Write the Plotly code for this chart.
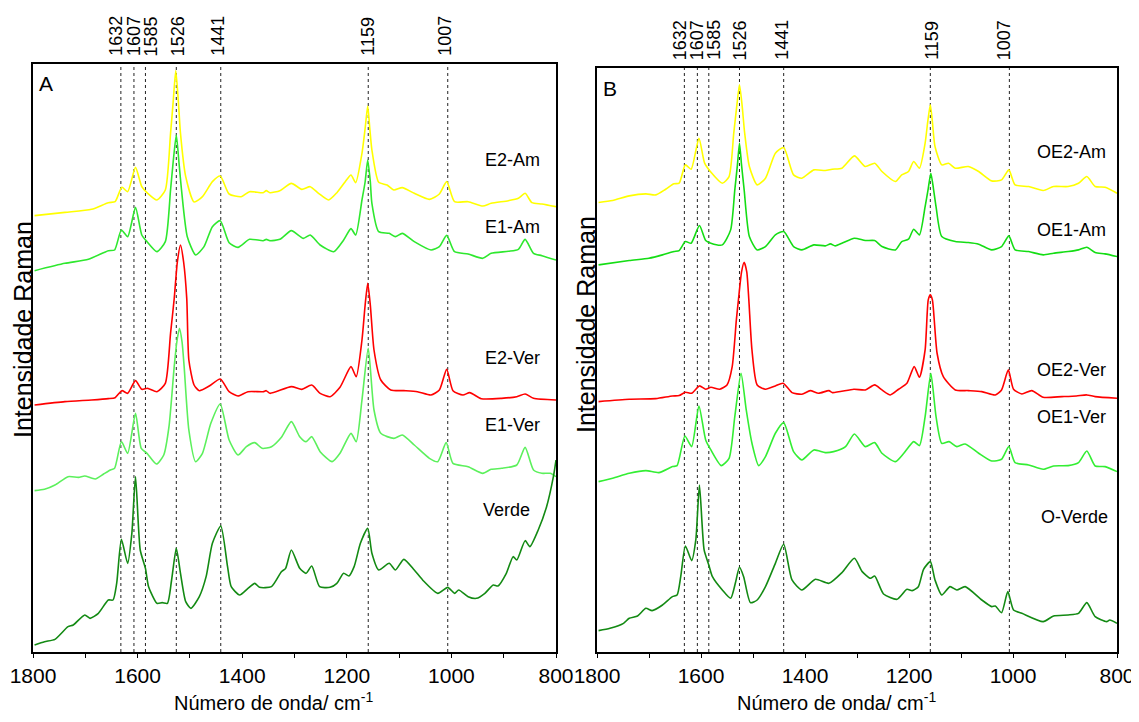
import plotly.graph_objects as go

# page is 1139x722; the html body adds an 8px margin, so the figure is 8px smaller
# on each axis and all page-pixel positions are shifted by 8px.
PAGE_OFF = 8
W, H = 1139 - PAGE_OFF, 722 - PAGE_OFF

# ---------------- data (wavenumber cm-1, intensity a.u.) ----------------
peaks = [1632, 1607, 1585, 1526, 1441, 1159, 1007]
tick_vals = [1800, 1600, 1400, 1200, 1000, 800]
tick_text = ["1800", "1600", "1400", "1200", "1000", "800"]
minor_tick_vals = [1700, 1500, 1300, 1100, 900]

# Panel A
A_E2_Am = [(1797,1309),(1739,1319),(1688,1328),(1656,1348),(1643,1351),(1630,1394),(1619,1381),(1604,1454),(1592,1396),(1582,1378),(1563,1356),(1547,1386),(1537,1556),(1532,1650),(1527,1744),(1522,1650),(1518,1556),(1508,1426),(1492,1350),(1476,1366),(1457,1411),(1442,1428),(1425,1374),(1402,1366),(1386,1381),(1360,1378),(1354,1384),(1347,1378),(1328,1384),(1306,1406),(1286,1388),(1270,1396),(1254,1376),(1235,1356),(1219,1378),(1203,1411),(1192,1431),(1183,1408),(1171,1496),(1165,1570),(1160,1638),(1156,1570),(1152,1506),(1139,1409),(1123,1401),(1110,1386),(1094,1393),(1071,1376),(1042,1358),(1023,1374),(1009,1411),(994,1351),(968,1351),(940,1338),(924,1346),(891,1354),(872,1361),(859,1376),(846,1348),(827,1344),(800,1336)]
A_E1_Am = [(1797,1144),(1739,1166),(1694,1178),(1656,1204),(1644,1206),(1631,1266),(1619,1246),(1604,1334),(1592,1251),(1582,1231),(1563,1201),(1547,1231),(1537,1386),(1532,1470),(1526,1551),(1521,1470),(1516,1386),(1505,1246),(1489,1191),(1473,1216),(1457,1276),(1442,1294),(1425,1228),(1408,1214),(1386,1238),(1360,1234),(1354,1238),(1347,1234),(1328,1238),(1306,1264),(1283,1241),(1270,1251),(1251,1221),(1225,1201),(1206,1236),(1192,1270),(1183,1251),(1171,1356),(1165,1410),(1160,1476),(1155,1410),(1152,1346),(1139,1261),(1119,1256),(1107,1246),(1094,1256),(1071,1231),(1039,1206),(1023,1216),(1009,1250),(994,1201),(968,1194),(940,1181),(924,1196),(891,1202),(872,1208),(859,1238),(843,1196),(827,1189),(800,1176)]
A_E2_Ver = [(1797,741),(1739,751),(1688,756),(1656,760),(1643,763),(1630,784),(1619,776),(1604,814),(1592,788),(1581,791),(1563,781),(1547,806),(1537,956),(1530,1060),(1524,1170),(1518,1221),(1512,1170),(1506,1060),(1502,876),(1492,801),(1482,784),(1463,798),(1442,819),(1425,781),(1408,768),(1389,781),(1360,781),(1354,784),(1347,776),(1306,796),(1286,788),(1267,801),(1251,776),(1232,766),(1213,794),(1192,856),(1182,826),(1171,936),(1165,1040),(1160,1106),(1155,1040),(1148,906),(1135,816),(1116,786),(1091,784),(1065,781),(1039,771),(1023,786),(1009,848),(997,784),(978,771),(965,778),(943,760),(904,761),(875,766),(859,774),(843,761),(800,756)]
A_E1_Ver = [(1797,484),(1778,488),(1758,501),(1733,526),(1713,524),(1701,528),(1681,519),(1665,534),(1652,546),(1644,551),(1631,631),(1619,596),(1604,716),(1593,611),(1582,596),(1564,564),(1550,591),(1540,676),(1530,856),(1525,930),(1520,971),(1515,930),(1511,856),(1502,666),(1489,571),(1476,596),(1460,686),(1442,744),(1425,636),(1408,591),(1392,616),(1376,628),(1362,611),(1344,616),(1325,644),(1306,691),(1290,646),(1278,631),(1267,646),(1251,601),(1228,571),(1213,596),(1192,656),(1182,631),(1171,756),(1159,911),(1148,726),(1135,656),(1110,641),(1094,651),(1071,621),(1042,581),(1026,571),(1010,628),(997,566),(968,556),(940,536),(924,548),(904,551),(875,561),(859,614),(843,546),(827,536),(811,536),(800,526)]
A_Verde = [(1797,21),(1778,31),(1758,38),(1733,76),(1723,81),(1701,111),(1691,101),(1675,116),(1656,156),(1647,156),(1640,206),(1631,338),(1619,266),(1611,356),(1604,526),(1595,306),(1585,251),(1579,196),(1563,146),(1553,148),(1543,146),(1535,216),(1526,311),(1518,236),(1508,151),(1498,131),(1482,166),(1469,226),(1457,326),(1441,378),(1428,256),(1421,196),(1405,171),(1389,191),(1376,206),(1367,194),(1344,196),(1325,241),(1317,251),(1306,306),(1290,251),(1278,236),(1267,258),(1252,196),(1232,194),(1219,206),(1206,236),(1196,228),(1186,256),(1174,326),(1160,371),(1152,296),(1139,246),(1119,266),(1107,246),(1091,278),(1071,246),(1055,216),(1026,176),(1007,194),(994,176),(986,186),(968,166),(952,161),(936,176),(920,201),(911,198),(895,236),(882,286),(875,276),(859,334),(850,316),(834,366),(818,436),(805,526),(800,576)]

# Panel B
B_OE2_Am = [(1797,1348),(1770,1354),(1738,1368),(1706,1374),(1687,1371),(1668,1388),(1652,1404),(1642,1406),(1630,1461),(1619,1448),(1604,1541),(1593,1466),(1582,1441),(1559,1406),(1546,1426),(1537,1556),(1531,1640),(1526,1701),(1521,1640),(1516,1556),(1507,1456),(1492,1401),(1476,1421),(1457,1496),(1441,1513),(1422,1431),(1406,1421),(1383,1446),(1361,1444),(1348,1448),(1329,1451),(1305,1488),(1284,1456),(1266,1466),(1252,1441),(1226,1411),(1214,1431),(1201,1441),(1191,1471),(1180,1451),(1169,1526),(1164,1590),(1159,1641),(1155,1590),(1150,1516),(1137,1461),(1124,1466),(1111,1451),(1086,1456),(1066,1441),(1041,1413),(1022,1416),(1008,1446),(996,1401),(970,1396),(942,1384),(922,1396),(894,1396),(874,1406),(858,1426),(842,1396),(823,1394),(800,1376)]
B_OE1_Am = [(1797,1161),(1738,1174),(1700,1181),(1674,1191),(1652,1201),(1642,1204),(1630,1231),(1619,1226),(1603,1279),(1591,1234),(1581,1226),(1559,1221),(1543,1266),(1535,1386),(1530,1460),(1526,1526),(1522,1460),(1517,1386),(1507,1246),(1492,1206),(1476,1216),(1457,1251),(1441,1261),(1422,1216),(1406,1206),(1383,1221),(1361,1218),(1351,1224),(1342,1218),(1329,1226),(1305,1241),(1284,1234),(1266,1234),(1252,1216),(1226,1206),(1214,1231),(1201,1238),(1191,1268),(1180,1251),(1169,1336),(1163,1390),(1158,1436),(1153,1390),(1148,1336),(1137,1246),(1111,1231),(1086,1228),(1066,1223),(1041,1206),(1022,1216),(1008,1248),(996,1206),(970,1201),(942,1191),(922,1196),(894,1201),(874,1206),(858,1214),(842,1198),(823,1194),(800,1186)]
B_OE2_Ver = [(1797,751),(1738,758),(1687,760),(1655,768),(1642,769),(1630,779),(1618,776),(1603,798),(1591,788),(1581,794),(1564,788),(1550,801),(1540,856),(1532,996),(1528,1056),(1522,1140),(1517,1169),(1512,1140),(1508,1056),(1502,906),(1492,801),(1476,788),(1457,798),(1442,806),(1425,778),(1406,773),(1390,784),(1374,776),(1354,784),(1347,778),(1306,788),(1284,786),(1266,801),(1252,786),(1236,771),(1220,788),(1204,806),(1190,856),(1180,824),(1169,906),(1163,1056),(1159,1071),(1155,1056),(1146,896),(1134,826),(1111,786),(1086,784),(1060,781),(1034,771),(1022,786),(1009,846),(999,788),(983,774),(964,784),(942,764),(906,766),(878,768),(858,771),(842,766),(800,761)]
B_OE1_Ver = [(1797,511),(1770,521),(1738,536),(1706,544),(1681,538),(1655,556),(1646,559),(1631,648),(1618,616),(1604,738),(1591,636),(1581,606),(1561,559),(1546,581),(1535,706),(1523,836),(1513,726),(1502,626),(1489,559),(1476,586),(1457,656),(1441,688),(1422,601),(1406,576),(1383,606),(1361,598),(1345,601),(1322,616),(1305,654),(1284,616),(1266,628),(1252,596),(1226,571),(1210,596),(1191,631),(1180,619),(1169,706),(1158,836),(1148,706),(1137,626),(1123,631),(1108,616),(1092,624),(1066,596),(1041,573),(1022,578),(1008,616),(996,568),(970,561),(942,548),(922,558),(894,559),(874,568),(858,603),(842,558),(823,556),(800,541)]
B_O_Verde = [(1797,64),(1775,71),(1749,86),(1738,101),(1722,108),(1706,131),(1694,124),(1674,141),(1655,166),(1646,171),(1639,226),(1630,318),(1618,274),(1610,336),(1603,501),(1594,306),(1585,261),(1578,226),(1559,186),(1543,161),(1534,206),(1526,254),(1518,226),(1505,148),(1492,156),(1476,196),(1457,266),(1441,323),(1425,216),(1406,186),(1380,218),(1354,206),(1329,238),(1305,281),(1290,241),(1274,221),(1266,228),(1249,174),(1223,158),(1204,188),(1194,184),(1182,196),(1172,248),(1159,271),(1150,216),(1137,171),(1121,196),(1108,186),(1092,196),(1060,156),(1041,136),(1034,138),(1022,118),(1010,181),(999,126),(983,116),(942,91),(922,108),(894,111),(874,116),(858,148),(842,106),(820,91),(814,96),(800,86)]

labels_A = ["E2-Am", "E1-Am", "E2-Ver", "E1-Ver", "Verde"]
labels_B = ["OE2-Am", "OE1-Am", "OE2-Ver", "OE1-Ver", "O-Verde"]
label_y_A = [1476, 1275, 882, 681, 426]
label_y_B = [1500, 1266, 846, 705, 405]
label_x_A = [827, 827, 827, 827, 846]
label_x_B = [817, 817, 817, 817, 813]

colors_A = ["#ffff00", "#2ee82e", "#ff0000", "#5cf05c", "#138a13"]
colors_B = ["#ffff00", "#14dd14", "#ff0000", "#33ee33", "#138a13"]

series_A = [A_E2_Am, A_E1_Am, A_E2_Ver, A_E1_Ver, A_Verde]
series_B = [B_OE2_Am, B_OE1_Am, B_OE2_Ver, B_OE1_Ver, B_O_Verde]

# ---------------- figure ----------------
FONT = "Liberation Sans, Arial, sans-serif"
fig = go.Figure()

def px_x(p):
    return (p - PAGE_OFF) / W

def px_y(p):
    return 1 - (p - PAGE_OFF) / H

for ser, col, xa, ya in [(s, c, "x", "y") for s, c in zip(series_A, colors_A)] + \
                        [(s, c, "x2", "y2") for s, c in zip(series_B, colors_B)]:
    xs = [p[0] for p in ser]
    ys = [p[1] for p in ser]
    fig.add_trace(go.Scatter(x=xs, y=ys, mode="lines", xaxis=xa, yaxis=ya,
                             line=dict(color=col, width=1.6, shape="spline", smoothing=0.6),
                             showlegend=False, hoverinfo="skip"))

axis_common = dict(showline=True, linecolor="black", linewidth=1.5, mirror=True,
                   showgrid=False, zeroline=False, automargin=False)

dom_xA = [px_x(33), px_x(556)]
dom_xB = [px_x(597), px_x(1117)]
dom_yA = [px_y(652), px_y(64)]
dom_yB = [px_y(652), px_y(67.5)]

xcommon = dict(range=[1800, 800], tickmode="array", tickvals=tick_vals, ticktext=tick_text,
               ticks="outside", ticklen=4, tickwidth=1.2, tickcolor="black",
               minor=dict(tickmode="array", tickvals=minor_tick_vals, ticks="outside",
                          ticklen=4, tickwidth=1.2, tickcolor="black", showgrid=False),
               tickfont=dict(size=21, color="black", family=FONT), ticklabelstandoff=0,
               **axis_common)
ycommon = dict(showticklabels=False, ticks="", **axis_common)

fig.update_layout(
    width=W, height=H, autosize=False,
    margin=dict(l=0, r=0, t=0, b=0, pad=0, autoexpand=False),
    paper_bgcolor="white", plot_bgcolor="white",
    font=dict(family=FONT, color="black"),
    xaxis=dict(domain=dom_xA, anchor="y", **xcommon),
    yaxis=dict(domain=dom_yA, anchor="x", range=[0, 1764], **ycommon),
    xaxis2=dict(domain=dom_xB, anchor="y2", **xcommon),
    yaxis2=dict(domain=dom_yB, anchor="x2", range=[0, 1753], **ycommon),
)

# horizontal nudges (px) of the rotated peak labels, as in the reference
shift_A = {1632: -5, 1607: 0, 1585: 6, 1526: 2, 1441: -3, 1159: 0, 1007: -3}
shift_B = {1632: -4, 1607: 0, 1585: 5, 1526: 1, 1441: -2, 1159: 2, 1007: -5}

shapes = []
annotations = []
for xa, ya, ylab, sh in [("x", "y", 58, shift_A), ("x2", "y2", 62, shift_B)]:
    for pk in peaks:
        shapes.append(dict(type="line", xref=xa, yref=ya + " domain", x0=pk, x1=pk, y0=0, y1=1,
                           line=dict(color="#222222", width=1, dash="dot"), layer="below"))
        annotations.append(dict(text=str(pk), xref=xa, yref="paper", x=pk, y=px_y(ylab),
                                xanchor="center", yanchor="bottom", textangle=-90, showarrow=False,
                                xshift=sh[pk], font=dict(size=18, color="black", family=FONT)))

for labs, ys, xs, xa, ya in [(labels_A, label_y_A, label_x_A, "x", "y"),
                             (labels_B, label_y_B, label_x_B, "x2", "y2")]:
    for lab, yv, xv in zip(labs, ys, xs):
        annotations.append(dict(text=lab, xref=xa, yref=ya, x=xv, y=yv, xanchor="right",
                                yanchor="middle", showarrow=False,
                                font=dict(size=18, color="black", family=FONT)))

# panel letters
annotations.append(dict(text="A", xref="paper", yref="paper", x=px_x(37), y=px_y(84),
                        xanchor="left", yanchor="middle", showarrow=False,
                        font=dict(size=21, color="black", family=FONT)))
annotations.append(dict(text="B", xref="paper", yref="paper", x=px_x(601), y=px_y(88),
                        xanchor="left", yanchor="middle", showarrow=False,
                        font=dict(size=21, color="black", family=FONT)))

# axis titles
for cx in [273, 836]:
    annotations.append(dict(text="Número de onda/ cm<sup>-1</sup>", xref="paper", yref="paper",
                            x=px_x(cx), y=px_y(701), xanchor="center", yanchor="middle",
                            showarrow=False, font=dict(size=20, color="black", family=FONT)))
for cx, cy in [(23, 330), (586, 325)]:
    annotations.append(dict(text="Intensidade Raman", xref="paper", yref="paper",
                            x=px_x(cx), y=px_y(cy), xanchor="center", yanchor="middle",
                            textangle=-90, showarrow=False,
                            font=dict(size=25, color="black", family=FONT)))

fig.update_layout(shapes=shapes, annotations=annotations)
fig.write_html("out.html")
